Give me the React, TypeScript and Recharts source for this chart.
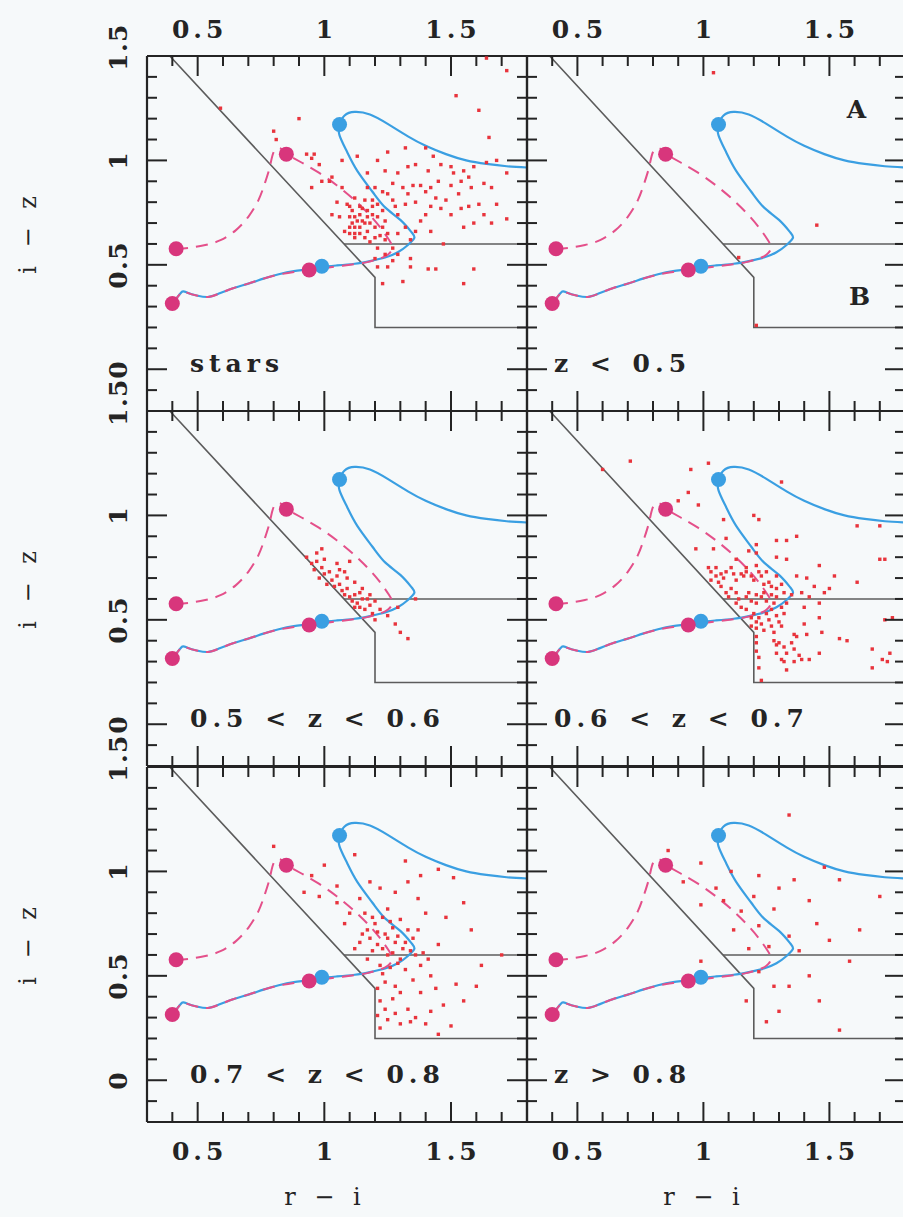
import React from 'react';
import { ComposedChart, XAxis, YAxis, Line, Scatter } from 'recharts';

// ---------- axes ----------
const X_DOMAIN: [number, number] = [0.3, 1.8];
const Y_DOMAIN: [number, number] = [-0.2, 1.5];
const X_TICKS = [0.3, 0.4, 0.5, 0.6, 0.7, 0.8, 0.9, 1.0, 1.1, 1.2, 1.3, 1.4, 1.5, 1.6, 1.7, 1.8];
const Y_TICKS = [-0.2, -0.1, 0, 0.1, 0.2, 0.3, 0.4, 0.5, 0.6, 0.7, 0.8, 0.9, 1.0, 1.1, 1.2, 1.3, 1.4, 1.5];
const X_TICK_LABELS = [0.5, 1, 1.5];
const Y_TICK_LABELS = [0, 0.5, 1, 1.5];
const X_TITLE = 'r − i';
const Y_TITLE = 'i − z';

// ---------- selection cuts ----------
const cutOuter: [number, number][] = [[0.39, 1.5], [1.2, 0.44], [1.2, 0.2], [1.8, 0.2]];
const cutInner: [number, number][] = [[1.078, 0.6], [1.8, 0.6]];

// ---------- model tracks ----------
const blueTrack: [number, number][] = [
  [0.40, 0.315], [0.42, 0.345], [0.44, 0.372], [0.46, 0.366], [0.50, 0.352], [0.54, 0.346],
  [0.58, 0.36], [0.64, 0.388], [0.70, 0.41], [0.76, 0.434], [0.82, 0.455], [0.88, 0.47],
  [0.94, 0.479], [0.99, 0.49], [1.05, 0.497], [1.12, 0.505], [1.18, 0.518], [1.24, 0.535],
  [1.29, 0.56], [1.33, 0.595], [1.355, 0.628], [1.345, 0.655], [1.30, 0.715], [1.24, 0.775],
  [1.19, 0.85], [1.13, 0.95], [1.09, 1.04], [1.06, 1.12], [1.06, 1.17], [1.08, 1.215],
  [1.12, 1.232], [1.18, 1.22], [1.25, 1.175], [1.33, 1.115], [1.40, 1.07], [1.48, 1.03],
  [1.56, 1.0], [1.64, 0.983], [1.72, 0.972], [1.80, 0.966],
];
const magentaTrackA: [number, number][] = [
  [0.40, 0.315], [0.42, 0.345], [0.44, 0.372], [0.46, 0.366], [0.50, 0.352], [0.54, 0.346],
  [0.58, 0.36], [0.64, 0.388], [0.70, 0.41], [0.76, 0.434], [0.82, 0.453], [0.88, 0.466],
  [0.94, 0.475], [1.00, 0.484], [1.06, 0.494], [1.12, 0.503], [1.17, 0.513], [1.215, 0.528],
  [1.25, 0.548], [1.268, 0.58], [1.255, 0.62], [1.22, 0.68], [1.17, 0.75], [1.11, 0.82],
  [1.05, 0.88], [0.98, 0.94], [0.91, 0.99], [0.85, 1.03],
];
const magentaTrackB: [number, number][] = [
  [0.415, 0.577], [0.47, 0.582], [0.53, 0.595], [0.59, 0.618], [0.65, 0.665], [0.70, 0.73],
  [0.74, 0.81], [0.765, 0.89], [0.785, 0.97], [0.80, 1.04], [0.825, 1.058], [0.85, 1.03],
];
const blueDots: [number, number][] = [[1.06, 1.172], [0.99, 0.493]];
const magentaDots: [number, number][] = [[0.40, 0.315], [0.415, 0.577], [0.85, 1.03], [0.94, 0.475]];

// ---------- objects per panel ----------
const starsPts: [number, number][] = [
  [1.64, 1.49], [1.72, 1.43], [1.52, 1.31], [1.61, 1.24], [1.65, 1.11], [0.96, 1.03], [1.07, 1.0],
  [1.13, 1.02], [1.17, 0.94], [1.21, 1.0], [1.25, 1.04], [1.32, 1.06], [1.40, 1.06], [1.43, 1.02],
  [1.46, 0.98], [1.50, 0.97], [1.55, 0.95], [1.59, 0.97], [1.64, 0.99], [1.68, 1.0], [1.72, 0.94],
  [1.24, 0.95], [1.29, 0.94], [1.33, 0.97], [1.36, 0.98], [1.41, 0.95], [1.45, 0.9], [1.51, 0.94],
  [1.54, 0.9], [1.57, 0.92], [1.63, 0.89], [1.66, 0.87], [1.17, 0.87], [1.23, 0.85], [1.27, 0.89],
  [1.31, 0.87], [1.33, 0.84], [1.35, 0.88], [1.38, 0.88], [1.40, 0.85], [1.42, 0.87], [1.44, 0.82],
  [1.48, 0.81], [1.53, 0.84], [1.58, 0.87], [1.61, 0.79], [1.68, 0.79], [1.72, 0.72], [1.54, 0.77],
  [1.57, 0.78], [1.63, 0.74], [1.66, 0.7], [1.59, 0.7], [1.55, 0.68], [1.50, 0.74], [1.46, 0.77],
  [1.42, 0.78], [1.40, 0.74], [1.38, 0.71], [1.42, 0.66], [1.47, 0.6], [1.36, 0.66], [1.34, 0.62],
  [1.29, 0.74], [1.27, 0.81], [1.32, 0.79], [1.28, 0.78], [1.21, 0.79], [1.16, 0.81], [1.12, 0.82],
  [1.10, 0.78], [1.10, 0.73], [1.11, 0.7], [1.14, 0.74], [1.15, 0.71], [1.17, 0.66], [1.19, 0.74],
  [1.21, 0.73], [1.23, 0.68], [1.24, 0.62], [1.20, 0.63], [1.16, 0.63], [1.12, 0.63], [1.08, 0.66],
  [1.21, 0.58], [1.24, 0.55], [1.27, 0.58], [1.29, 0.55], [1.21, 0.49], [1.25, 0.49], [1.23, 0.41],
  [1.31, 0.42], [1.34, 0.53], [1.34, 0.49], [1.41, 0.48], [1.44, 0.48], [1.59, 0.48], [1.55, 0.41],
  [1.03, 0.92], [1.02, 0.9], [0.98, 0.98], [1.07, 0.87], [1.05, 0.8], [1.03, 0.74], [1.06, 0.73],
  [1.14, 0.78], [1.17, 0.76], [1.19, 0.81], [1.25, 0.84], [1.36, 0.8], [1.50, 0.88], [1.12, 0.68],
  [1.10, 0.65], [1.14, 0.65], [1.18, 0.61], [1.20, 0.53], [1.27, 0.52], [1.29, 0.65], [1.32, 0.68],
  [1.20, 0.87], [1.09, 0.79], [1.11, 0.76], [1.12, 0.73], [1.15, 0.77], [1.17, 0.73], [1.18, 0.7],
  [1.20, 0.68], [1.14, 0.68], [1.13, 0.71], [1.10, 0.68], [1.12, 0.65], [1.16, 0.7], [1.19, 0.78],
  [1.23, 0.76], [1.24, 0.71], [1.25, 0.65], [1.22, 0.64], [0.59, 1.25], [0.90, 1.2], [0.80, 1.14],
  [0.81, 1.1], [0.93, 1.03], [0.95, 1.01], [0.95, 0.87], [0.99, 0.9],
];
const zLt05Pts: [number, number][] = [[1.04, 1.42], [1.45, 0.69], [1.21, 0.21], [1.14, 0.535]];
const z0506Pts: [number, number][] = [
  [0.93, 0.8], [0.95, 0.77], [0.97, 0.78], [0.96, 0.74], [0.99, 0.75], [1.0, 0.72], [0.98, 0.7],
  [1.02, 0.73], [1.03, 0.69], [1.05, 0.71], [1.01, 0.67], [1.04, 0.66], [1.06, 0.67], [1.07, 0.64],
  [1.09, 0.65], [1.08, 0.62], [1.1, 0.61], [1.12, 0.62], [1.11, 0.59], [1.13, 0.58], [1.15, 0.6],
  [1.14, 0.56], [1.16, 0.55], [1.18, 0.57], [1.06, 0.74], [1.09, 0.7], [1.12, 0.68], [1.15, 0.65],
  [1.18, 0.62], [1.2, 0.59], [1.22, 0.55], [1.25, 0.52], [1.28, 0.48], [1.1, 0.78], [1.3, 0.44],
  [0.99, 0.84], [1.2, 0.5], [1.05, 0.77], [1.08, 0.73], [1.0, 0.79], [0.97, 0.82], [1.14, 0.63],
  [1.17, 0.6], [1.12, 0.56], [1.19, 0.53], [1.29, 0.56], [1.33, 0.41], [1.36, 0.6],
];
const z0607Pts: [number, number][] = [
  [1.02, 1.25], [0.95, 1.22], [0.94, 1.11], [0.9, 1.07], [0.98, 1.05], [1.31, 1.16], [1.2, 1.0],
  [1.22, 0.98], [1.08, 0.98], [1.09, 0.89], [0.97, 0.84], [1.04, 0.84], [1.29, 0.88], [1.33, 0.88],
  [1.37, 0.9], [1.21, 0.86], [1.18, 0.83], [1.21, 0.82], [1.29, 0.8], [1.33, 0.79], [1.61, 0.95],
  [1.7, 0.95], [1.7, 0.79], [1.72, 0.79], [1.46, 0.76], [1.52, 0.71], [1.61, 0.68], [1.41, 0.7],
  [1.37, 0.71], [1.25, 0.73], [1.29, 0.71], [1.13, 0.79], [1.17, 0.75], [1.02, 0.75], [1.03, 0.73],
  [1.05, 0.75], [1.07, 0.72], [1.05, 0.71], [1.03, 0.69], [1.06, 0.68], [1.08, 0.7], [1.09, 0.73],
  [1.11, 0.75], [1.12, 0.72], [1.13, 0.69], [1.15, 0.72], [1.16, 0.71], [1.17, 0.73], [1.19, 0.71],
  [1.2, 0.69], [1.21, 0.76], [1.22, 0.73], [1.23, 0.71], [1.24, 0.67], [1.26, 0.68], [1.27, 0.66],
  [1.29, 0.65], [1.31, 0.67], [1.32, 0.63], [1.07, 0.66], [1.09, 0.63], [1.1, 0.61], [1.11, 0.65],
  [1.13, 0.63], [1.14, 0.6], [1.13, 0.58], [1.15, 0.56], [1.17, 0.61], [1.18, 0.63], [1.19, 0.59],
  [1.21, 0.62], [1.21, 0.58], [1.23, 0.61], [1.24, 0.63], [1.25, 0.59], [1.27, 0.62], [1.28, 0.58],
  [1.29, 0.61], [1.31, 0.56], [1.32, 0.53], [1.33, 0.58], [1.17, 0.55], [1.19, 0.51], [1.2, 0.53],
  [1.21, 0.49], [1.22, 0.51], [1.23, 0.48], [1.25, 0.53], [1.26, 0.5], [1.27, 0.55], [1.29, 0.52],
  [1.3, 0.49], [1.19, 0.47], [1.21, 0.46], [1.24, 0.45], [1.27, 0.47], [1.28, 0.44], [1.31, 0.47],
  [1.35, 0.62], [1.39, 0.63], [1.42, 0.61], [1.44, 0.66], [1.46, 0.58], [1.48, 0.63], [1.5, 0.65],
  [1.4, 0.56], [1.46, 0.51], [1.4, 0.48], [1.41, 0.43], [1.47, 0.44], [1.36, 0.43], [1.37, 0.42],
  [1.35, 0.39], [1.28, 0.4], [1.29, 0.38], [1.3, 0.39], [1.32, 0.37], [1.33, 0.34], [1.29, 0.34],
  [1.31, 0.31], [1.36, 0.36], [1.38, 0.33], [1.39, 0.31], [1.42, 0.31], [1.46, 0.34], [1.36, 0.3],
  [1.32, 0.3], [1.21, 0.42], [1.21, 0.39], [1.21, 0.35], [1.22, 0.32], [1.22, 0.27], [1.23, 0.21],
  [1.33, 0.26], [1.54, 0.41], [1.57, 0.4], [1.67, 0.36], [1.71, 0.31], [1.73, 0.3], [1.74, 0.34],
  [1.67, 0.27], [1.75, 0.51], [1.72, 0.5], [0.71, 1.26], [0.6, 1.22],
];
const z0708Pts: [number, number][] = [
  [0.8, 1.12], [1.45, 1.01], [1.51, 0.97], [1.37, 0.87], [1.25, 0.82], [1.14, 0.87], [1.08, 0.75],
  [1.15, 0.7], [1.21, 0.65], [1.27, 0.73], [1.31, 0.63], [1.35, 0.68], [1.29, 0.56], [1.23, 0.51],
  [1.17, 0.58], [1.12, 0.63], [1.39, 0.61], [1.45, 0.65], [1.21, 0.44], [1.27, 0.39], [1.33, 0.34],
  [1.25, 0.29], [1.22, 0.25], [1.3, 0.27], [1.36, 0.3], [1.42, 0.33], [1.5, 0.26], [1.55, 0.38],
  [1.6, 0.45], [1.18, 0.95], [1.05, 0.93], [0.98, 0.88], [0.92, 0.9], [1.0, 1.03], [1.32, 1.05],
  [1.4, 0.8], [1.48, 0.78], [1.58, 0.72], [1.2, 0.75], [1.24, 0.7], [1.28, 0.66], [1.18, 0.68],
  [1.25, 0.6], [1.3, 0.58], [1.34, 0.62], [1.38, 0.55], [1.42, 0.5], [1.35, 0.48], [1.28, 0.45],
  [1.7, 0.6], [1.22, 0.92], [1.28, 0.9], [1.33, 0.95], [1.38, 0.98], [1.16, 0.8], [1.19, 0.78],
  [1.23, 0.78], [1.26, 0.76], [1.3, 0.77], [1.33, 0.72], [1.37, 0.72], [1.17, 0.72], [1.21, 0.71],
  [1.25, 0.68], [1.29, 0.69], [1.32, 0.66], [1.14, 0.66], [1.19, 0.62], [1.23, 0.63], [1.27, 0.61],
  [1.36, 0.6], [1.41, 0.58], [1.22, 0.55], [1.26, 0.54], [1.32, 0.53], [1.24, 0.47], [1.3, 0.42],
  [1.38, 0.42], [1.44, 0.44], [1.47, 0.36], [1.22, 0.38], [1.24, 0.34], [1.28, 0.32], [1.34, 0.28],
  [1.4, 0.27], [1.45, 0.22], [1.21, 0.31], [1.52, 0.46], [1.62, 0.55], [1.1, 0.8], [1.05, 0.85],
  [0.95, 0.98], [1.12, 1.08], [1.55, 0.85],
];
const zGt08Pts: [number, number][] = [
  [1.34, 1.27], [0.86, 1.1], [0.99, 1.04], [1.11, 1.0], [1.22, 0.98], [1.36, 0.96], [1.54, 0.96],
  [0.99, 0.84], [1.15, 0.81], [1.22, 0.74], [1.34, 0.69], [1.26, 0.64], [1.42, 0.86], [1.5, 0.67],
  [1.58, 0.57], [1.22, 0.52], [1.34, 0.45], [1.46, 0.38], [1.54, 0.24], [1.3, 0.33], [1.17, 0.38],
  [0.99, 0.57], [0.92, 0.95], [1.05, 0.92], [1.08, 0.86], [1.2, 0.88], [1.28, 0.82], [1.3, 0.92],
  [1.45, 0.75], [1.38, 0.62], [1.42, 0.5], [1.28, 0.45], [1.25, 0.28], [1.62, 0.72], [1.7, 0.88],
  [1.18, 0.63], [1.12, 0.72], [1.48, 1.02], [1.05, 1.15],
];

const PANEL_LABELS = ['stars', 'z < 0.5', '0.5 < z < 0.6', '0.6 < z < 0.7', '0.7 < z < 0.8', 'z > 0.8'];
const PANEL_POINTS = [starsPts, zLt05Pts, z0506Pts, z0607Pts, z0708Pts, zGt08Pts];
const REGION_LABELS = ['A', 'B'];

// ---------- styling / layout ----------
const FONT = "'DejaVu Serif', serif";
const INK = '#242424';
const BG = '#f6f9fa';
const CUT = '#5c5c5c';
const BLUE = '#3a9fe2';
const MAGENTA = '#d8367c';
const PINK_DASH = '#e4508a';
const RED = '#e8343c';
const PAGE_W = 903;
const PAGE_H = 1217;
const CHART_W = 920;
const CHART_H = 1217;
const COL_LEFT = [147, 527];
const COL_WIDTH = [380, 378];
const ROW_TOP = [56, 411, 767];
const ROW_H = 355;

const toXY = (arr: [number, number][]) => arr.map(([x, y]) => ({ x, y }));

const isMajor = (v: number) => Math.abs(v * 2 - Math.round(v * 2)) < 1e-6;
const fmt = (v: number) => (Math.abs(v) < 1e-9 ? '0' : String(Math.round(v * 10) / 10));

const xLabelStyle: React.CSSProperties = { fontFamily: FONT, fontWeight: 'bold', fontSize: 25, letterSpacing: 4 };
const yLabelStyle: React.CSSProperties = { fontFamily: FONT, fontWeight: 'bold', fontSize: 25, letterSpacing: 1.5 };

function XTick(props: any) {
  const { x, y, payload, side, show } = props;
  const v = payload.value as number;
  const len = isMajor(v) ? 20 : 10;
  const dir = side === 'bottom' ? -1 : 1;
  const labeled = show && X_TICK_LABELS.some((t) => Math.abs(t - v) < 1e-6);
  return (
    <g>
      <line x1={x} x2={x} y1={y} y2={y + dir * len} stroke={INK} strokeWidth={2} />
      {labeled && (
        <text x={x + 2} y={side === 'bottom' ? y + 38 : y - 18} textAnchor="middle" fill={INK} style={xLabelStyle}>
          {fmt(v)}
        </text>
      )}
    </g>
  );
}

function YTick(props: any) {
  const { x, y, payload, side, show } = props;
  const v = payload.value as number;
  const len = isMajor(v) ? 20 : 10;
  const dir = side === 'left' ? 1 : -1;
  const labeled = show && Y_TICK_LABELS.some((t) => Math.abs(t - v) < 1e-6);
  const cy = Math.abs(v - 1.5) < 1e-6 ? y - 9 : y;
  const bx = x - 20;
  return (
    <g>
      <line x1={x} x2={x + dir * len} y1={y} y2={y} stroke={INK} strokeWidth={2} />
      {labeled && (
        <text x={bx} y={cy} textAnchor="middle" fill={INK} transform={`rotate(-90 ${bx} ${cy})`} style={yLabelStyle}>
          {fmt(v)}
        </text>
      )}
    </g>
  );
}

const AXIS_LINE = { stroke: INK, strokeWidth: 2.2 };

function Panel({ index }: { index: number }) {
  const col = index % 2;
  const row = Math.floor(index / 2);
  const left = COL_LEFT[col];
  const top = ROW_TOP[row];
  const w = COL_WIDTH[col];
  // axes take 1px each, so the margins stop one pixel short of the plot frame
  const margin = { left: left - 1, top: top - 1, right: CHART_W - left - w - 1, bottom: CHART_H - top - ROW_H - 1 };
  const showTop = row === 0;
  const showBottom = row === 2;
  const showLeft = col === 0;
  const pts = toXY(PANEL_POINTS[index]);
  return (
    <div style={{ position: 'absolute', left: 0, top: 0 }}>
      <ComposedChart width={CHART_W} height={CHART_H} margin={margin}>
        <XAxis
          xAxisId="b" orientation="bottom" type="number" dataKey="x" domain={X_DOMAIN} allowDataOverflow
          ticks={X_TICKS} interval={0} height={1} tickSize={0} tickMargin={0} tickLine={false} axisLine={AXIS_LINE}
          tick={(p: any) => <XTick {...p} side="bottom" show={showBottom} />}
        />
        <XAxis
          xAxisId="t" orientation="top" type="number" dataKey="x" domain={X_DOMAIN} allowDataOverflow
          ticks={X_TICKS} interval={0} height={1} tickSize={0} tickMargin={0} tickLine={false} axisLine={AXIS_LINE}
          tick={(p: any) => <XTick {...p} side="top" show={showTop} />}
        />
        <YAxis
          yAxisId="l" orientation="left" type="number" dataKey="y" domain={Y_DOMAIN} allowDataOverflow
          ticks={Y_TICKS} interval={0} width={1} tickSize={0} tickMargin={0} tickLine={false} axisLine={AXIS_LINE}
          tick={(p: any) => <YTick {...p} side="left" show={showLeft} />}
        />
        <YAxis
          yAxisId="r" orientation="right" type="number" dataKey="y" domain={Y_DOMAIN} allowDataOverflow
          ticks={Y_TICKS} interval={0} width={1} tickSize={0} tickMargin={0} tickLine={false} axisLine={AXIS_LINE}
          tick={(p: any) => <YTick {...p} side="right" show={false} />}
        />
        <Line xAxisId="b" yAxisId="l" data={toXY(cutOuter)} dataKey="y" type="linear" stroke={CUT} strokeWidth={1.6} dot={false} isAnimationActive={false} />
        <Line xAxisId="b" yAxisId="l" data={toXY(cutInner)} dataKey="y" type="linear" stroke={CUT} strokeWidth={1.6} dot={false} isAnimationActive={false} />
        <Scatter xAxisId="b" yAxisId="l" data={pts} isAnimationActive={false}
          shape={(p: any) => <rect x={p.cx - 1.7} y={p.cy - 1.7} width={3.4} height={3.4} fill={RED} />} />
        <Line xAxisId="b" yAxisId="l" data={toXY(blueTrack)} dataKey="y" type="natural" stroke={BLUE} strokeWidth={2.2} dot={false} isAnimationActive={false} />
        <Line xAxisId="b" yAxisId="l" data={toXY(magentaTrackA)} dataKey="y" type="natural" stroke={PINK_DASH} strokeWidth={2} strokeDasharray="12 8" dot={false} isAnimationActive={false} />
        <Line xAxisId="b" yAxisId="l" data={toXY(magentaTrackB)} dataKey="y" type="natural" stroke={PINK_DASH} strokeWidth={2} strokeDasharray="12 8" dot={false} isAnimationActive={false} />
        <Scatter xAxisId="b" yAxisId="l" data={toXY(blueDots)} isAnimationActive={false}
          shape={(p: any) => <circle cx={p.cx} cy={p.cy} r={7.5} fill={BLUE} />} />
        <Scatter xAxisId="b" yAxisId="l" data={toXY(magentaDots)} isAnimationActive={false}
          shape={(p: any) => <circle cx={p.cx} cy={p.cy} r={7.5} fill={MAGENTA} />} />
      </ComposedChart>
    </div>
  );
}

export default function App() {
  const textStyle: React.CSSProperties = { fontFamily: FONT, fontWeight: 'bold', fontSize: 25, letterSpacing: 5, wordSpacing: 3 };
  const titleStyle: React.CSSProperties = { fontFamily: FONT, fontSize: 24, letterSpacing: 3, wordSpacing: 5 };
  return (
    <div style={{ position: 'absolute', left: 0, top: 0, width: PAGE_W, height: PAGE_H, overflow: 'hidden', background: BG }}>
      {PANEL_LABELS.map((_, i) => (
        <Panel key={i} index={i} />
      ))}
      <svg width={PAGE_W} height={PAGE_H} style={{ position: 'absolute', left: 0, top: 0 }}>
        {PANEL_LABELS.map((lab, i) => {
          const col = i % 2;
          const row = Math.floor(i / 2);
          const x = col === 0 ? 190 : 554;
          const y = ROW_TOP[row] + 316;
          return (
            <text key={lab} x={x} y={y} fill={INK} style={textStyle}>
              {lab}
            </text>
          );
        })}
        <text x={859} y={118} textAnchor="middle" fill={INK} style={textStyle}>{REGION_LABELS[0]}</text>
        <text x={862} y={305} textAnchor="middle" fill={INK} style={textStyle}>{REGION_LABELS[1]}</text>
        {ROW_TOP.map((t) => {
          const cy = t + ROW_H / 2;
          return (
            <text key={t} x={36} y={cy} textAnchor="middle" fill={INK} transform={`rotate(-90 36 ${cy})`} style={titleStyle}>
              {Y_TITLE}
            </text>
          );
        })}
        <text x={324} y={1205} textAnchor="middle" fill={INK} style={titleStyle}>{X_TITLE}</text>
        <text x={703} y={1205} textAnchor="middle" fill={INK} style={titleStyle}>{X_TITLE}</text>
      </svg>
    </div>
  );
}
